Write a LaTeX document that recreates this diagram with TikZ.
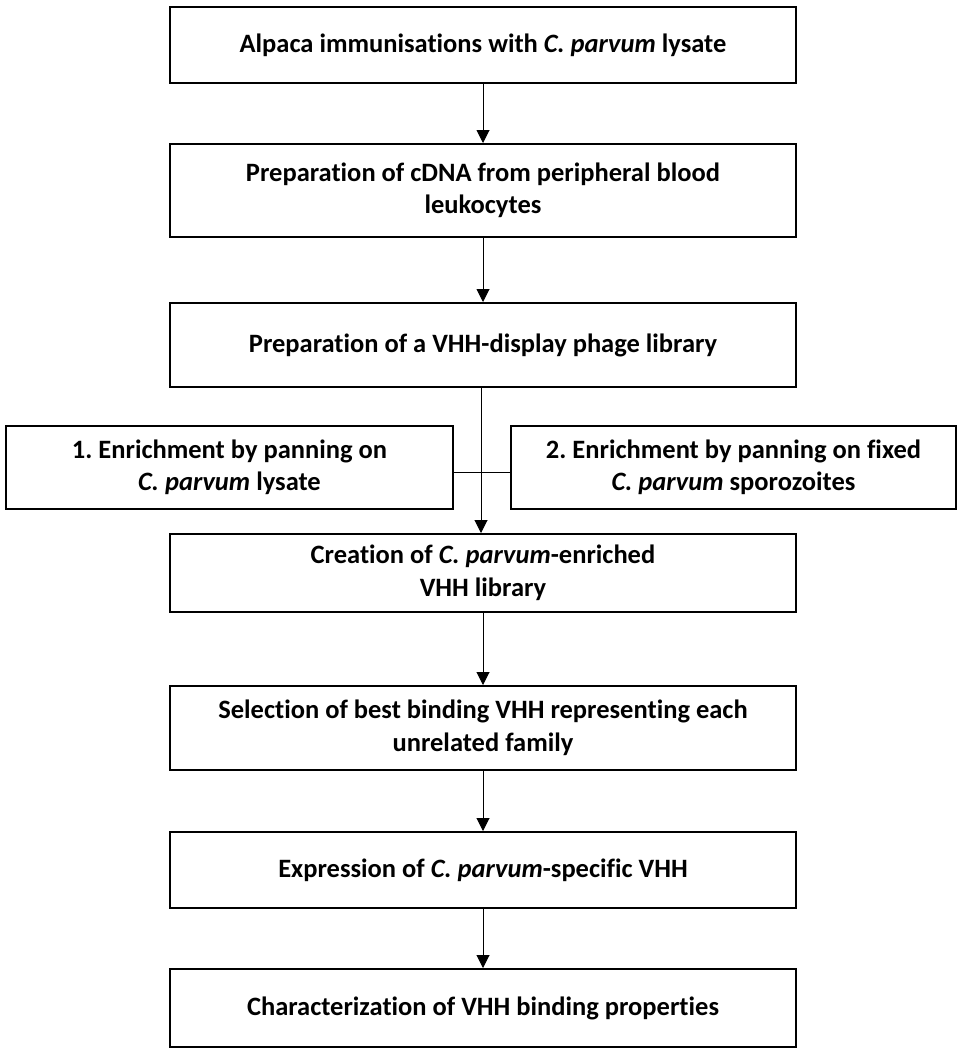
\documentclass[tikz,border=0pt]{standalone}
\usepackage{fontspec}
\setmainfont{Carlito}[Ligatures=NoCommon]
\usetikzlibrary{arrows.meta}
\frenchspacing
\tikzset{
  stepbox/.style={draw=black, line width=2pt, anchor=north west, inner sep=0pt,
    align=center, font=\fontsize{26.5}{32.5}\selectfont\bfseries},
  flow/.style={line width=1pt, -{Triangle[length=13pt,width=13pt]}},
  link/.style={line width=1pt}
}
\newcommand{\cp}{\textit{C. parvum}}
\begin{document}
\begin{tikzpicture}[x=1pt,y=-1pt]
\useasboundingbox (0,0) rectangle (960,1050);
\node[stepbox, minimum width=626pt, minimum height=76pt] (b1) at (169,6) {Alpaca immunisations with \cp{} lysate};
\node[stepbox, minimum width=626pt, minimum height=93pt] (b2) at (169,143) {Preparation of cDNA from peripheral blood\\leukocytes};
\node[stepbox, minimum width=626pt, minimum height=84pt] (b3) at (169,302) {Preparation of a VHH-display phage library};
\node[stepbox, minimum width=447pt, minimum height=83pt] (s1) at (5,425) {1. Enrichment by panning on\\\cp{} lysate};
\node[stepbox, minimum width=445pt, minimum height=83pt] (s2) at (510,425) {2. Enrichment by panning on fixed\\\cp{} sporozoites};
\node[stepbox, minimum width=626pt, minimum height=78pt] (b5) at (169,533) {Creation of \cp{}-enriched\\VHH library};
\node[stepbox, minimum width=626pt, minimum height=84pt] (b6) at (169,685) {Selection of best binding VHH representing each\\unrelated family};
\node[stepbox, minimum width=626pt, minimum height=76pt] (b7) at (169,831) {Expression of \cp{}-specific VHH};
\node[stepbox, minimum width=626pt, minimum height=78pt] (b8) at (169,968) {Characterization of VHH binding properties};
\draw[flow] (b1.south) -- (b2.north);
\draw[flow] (b2.south) -- (b3.north);
\draw[flow] ([xshift=-2pt]b3.south) -- ([xshift=-2pt]b5.north);
\draw[link] ([yshift=-5pt]s1.east) -- ([yshift=-5pt]s2.west);
\draw[flow] (b5.south) -- (b6.north);
\draw[flow] (b6.south) -- (b7.north);
\draw[flow] (b7.south) -- (b8.north);
\end{tikzpicture}
\end{document}
